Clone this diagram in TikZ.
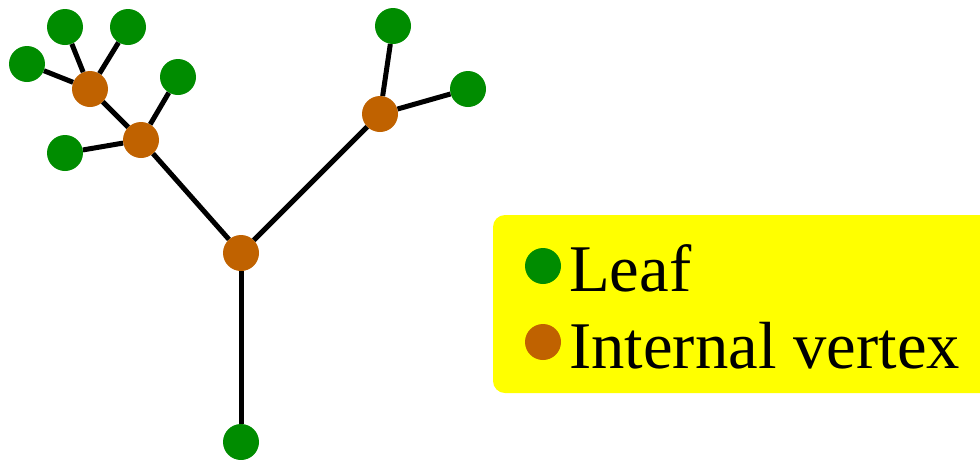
\documentclass[tikz,border=0pt]{standalone}
\usepackage{fontspec}
\setmainfont{Liberation Serif}
\definecolor{leafgreen}{RGB}{0,140,0}
\definecolor{intorange}{RGB}{192,98,0}
\definecolor{legyellow}{RGB}{255,255,0}
\begin{document}
\begin{tikzpicture}[x=1pt,y=-1pt,
  leaf/.style={circle,fill=leafgreen,draw=none,minimum size=36pt,inner sep=0pt},
  internal/.style={circle,fill=intorange,draw=none,minimum size=36pt,inner sep=0pt},
  edge/.style={line width=5pt,black},
  legtext/.style={anchor=base west,inner sep=0pt,font=\fontsize{66.7}{77}\selectfont}]
\useasboundingbox (0,0) rectangle (980,459);
% legend box
\begin{scope}
\clip (0,0) rectangle (980,459);
\fill[legyellow,rounded corners=12pt] (493,215) rectangle (1010,393);
\end{scope}
% nodes
\node[internal] (c) at (241,253) {};
\node[internal] (l) at (141,140) {};
\node[internal] (ul) at (90,89) {};
\node[internal] (r) at (380,114) {};
\node[leaf] (b) at (241,442) {};
\node[leaf] (a1) at (65,27) {};
\node[leaf] (a2) at (128,27) {};
\node[leaf] (a3) at (27,64) {};
\node[leaf] (a4) at (178,77) {};
\node[leaf] (a5) at (65,153) {};
\node[leaf] (a6) at (393,26) {};
\node[leaf] (a7) at (468,89) {};
% edges
\draw[edge] (c) -- (b);
\draw[edge] (c) -- (l);
\draw[edge] (c) -- (r);
\draw[edge] (l) -- (ul);
\draw[edge] (l) -- (a4);
\draw[edge] (l) -- (a5);
\draw[edge] (ul) -- (a1);
\draw[edge] (ul) -- (a2);
\draw[edge] (ul) -- (a3);
\draw[edge] (r) -- (a6);
\draw[edge] (r) -- (a7);
% legend
\node[leaf] (kl) at (543,266) {};
\node[internal] (ki) at (543,342) {};
\node[legtext] (tl) at (569,291) {Leaf};
\node[legtext] (ti) at (569,368) {Internal vertex};
\end{tikzpicture}
\end{document}
